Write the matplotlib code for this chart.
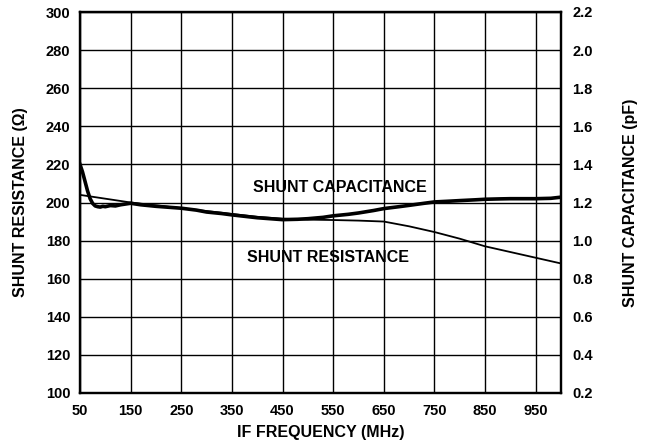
import matplotlib
matplotlib.use("Agg")
import matplotlib.pyplot as plt
import numpy as np

plt.rcParams['font.family'] = ['Liberation Sans', 'DejaVu Sans']
plt.rcParams['font.weight'] = 'bold'

# Shunt resistance (ohms)
res_freq = [50, 100, 150, 200, 250, 300, 350, 400, 450, 500, 550, 600, 650, 700, 750, 800, 850, 900, 950, 1000]
res_vals = [204, 202, 200, 198.5, 197, 195.5, 194, 192.5, 191.5, 191, 190.8, 190.5, 190, 187.5, 184.5, 181, 177, 174, 171, 168]

# Shunt capacitance (pF)
cap_freq = [50, 55, 60, 65, 70, 75, 80, 85, 90, 95, 100, 110, 120, 130, 140, 150, 170, 200, 230, 250,
            280, 300, 330, 350, 380, 400, 430, 450, 480, 500, 530, 550, 580, 600, 630, 650, 680, 700,
            730, 750, 780, 800, 830, 850, 880, 900, 930, 950, 980, 1000]
cap_vals = [1.40, 1.36, 1.31, 1.26, 1.22, 1.195, 1.182, 1.178, 1.176, 1.180, 1.178, 1.184, 1.182, 1.188, 1.192, 1.196,
            1.188, 1.180, 1.174, 1.170, 1.160, 1.150, 1.142, 1.135, 1.126, 1.120, 1.114, 1.110, 1.112, 1.115,
            1.122, 1.130, 1.138, 1.145, 1.158, 1.168, 1.178, 1.185, 1.196, 1.203, 1.207, 1.210, 1.214, 1.217,
            1.219, 1.220, 1.220, 1.220, 1.222, 1.228]

x_ticks = [50, 150, 250, 350, 450, 550, 650, 750, 850, 950]
y_left_ticks = [100, 120, 140, 160, 180, 200, 220, 240, 260, 280, 300]
y_right_ticks = [0.2, 0.4, 0.6, 0.8, 1.0, 1.2, 1.4, 1.6, 1.8, 2.0, 2.2]

fig = plt.figure(figsize=(6.47, 4.47), dpi=100)
ax = fig.add_axes([80/647, 1 - 393/447, (561-80)/647, (393-12)/447])
ax2 = ax.twinx()

ax.set_xlim(50, 1000)
ax.set_ylim(100, 300)
ax2.set_ylim(0.2, 2.2)

ax.set_xticks(x_ticks)
ax.set_yticks(y_left_ticks)
ax2.set_yticks(y_right_ticks)
ax.set_xticklabels([str(v) for v in x_ticks], fontsize=10.5, fontweight='bold')
ax.set_yticklabels([str(v) for v in y_left_ticks], fontsize=10.5, fontweight='bold')
ax2.set_yticklabels([f"{v:.1f}" for v in y_right_ticks], fontsize=10.5, fontweight='bold')

ax.tick_params(axis='y', length=0, pad=7)
ax.tick_params(axis='x', length=0, pad=8)
ax2.tick_params(length=0, pad=8)

ax.grid(True, color='black', linewidth=1.0)
for sp in list(ax.spines.values()) + list(ax2.spines.values()):
    sp.set_linewidth(1.6)
    sp.set_color('black')

ax.plot(res_freq, res_vals, color='black', linewidth=1.3)
ax2.plot(cap_freq, cap_vals, color='black', linewidth=2.6)

ax.text(563, 207.8, "SHUNT CAPACITANCE", ha='center', va='center', fontsize=11.5, fontweight='bold')
ax.text(539, 171, "SHUNT RESISTANCE", ha='center', va='center', fontsize=11.5, fontweight='bold')

ax.set_xlabel("IF FREQUENCY (MHz)", fontsize=11.5, fontweight='bold', labelpad=5)
ax.set_ylabel("SHUNT RESISTANCE (Ω)", fontsize=11.5, fontweight='bold', labelpad=13)
ax2.set_ylabel("SHUNT CAPACITANCE (pF)", fontsize=11.5, fontweight='bold', labelpad=22)

fig.savefig("out.png", dpi=100)
